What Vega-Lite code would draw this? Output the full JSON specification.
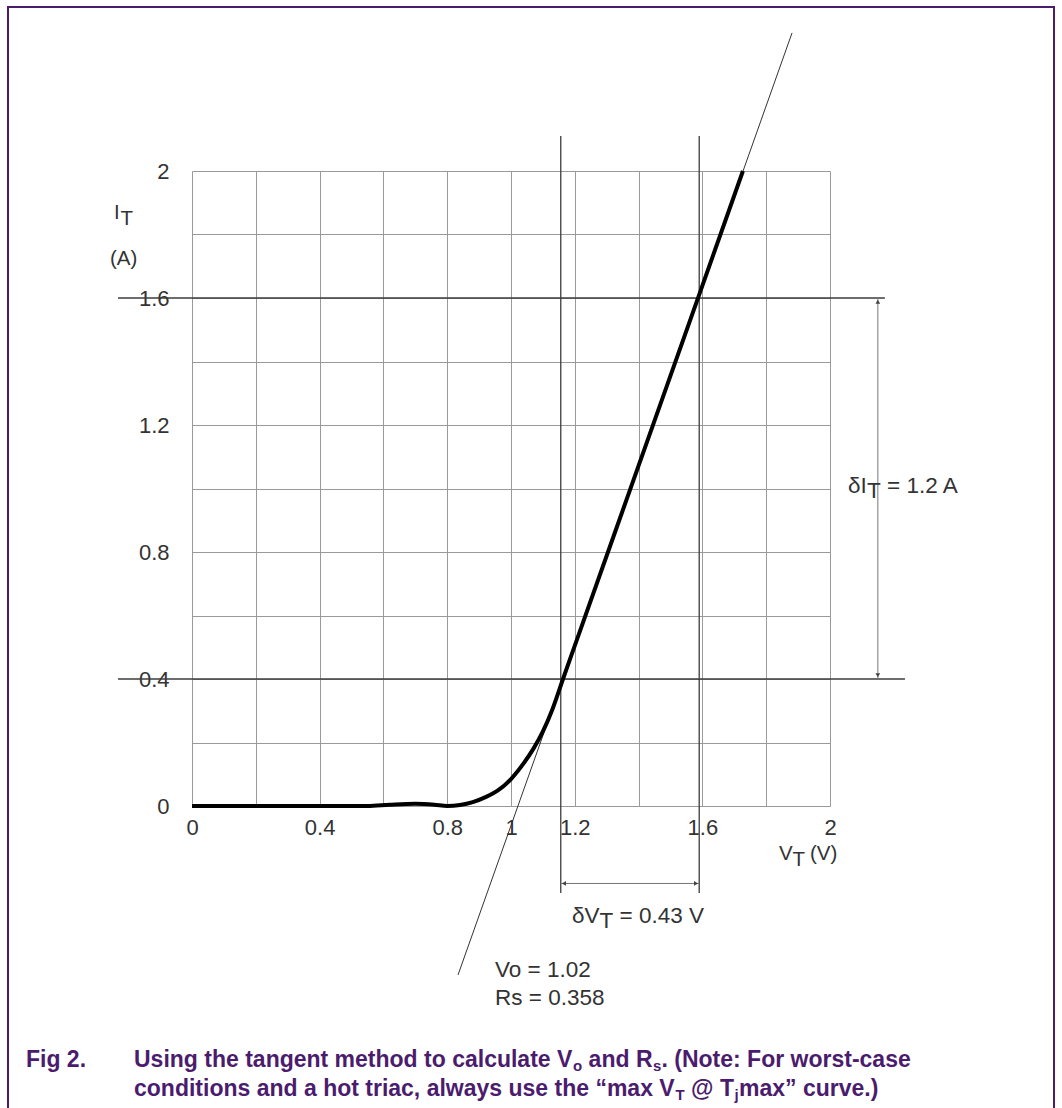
{
  "$schema": "https://vega.github.io/schema/vega-lite/v6.json",
  "width": 638,
  "height": 635,
  "autosize": {"type": "none"},
  "padding": {"left": 192, "top": 171, "right": 232, "bottom": 302},
  "background": "white",
  "config": {
    "view": {"stroke": null},
    "font": "Liberation Sans",
    "axis": {
      "grid": true,
      "gridColor": "#9a9a9a",
      "gridWidth": 1,
      "domain": false,
      "ticks": false,
      "labelFont": "Liberation Sans",
      "labelFontSize": 22,
      "labelColor": "#333333",
      "labelOverlap": false,
      "labelFlush": false,
      "title": null
    }
  },
  "datasets": {
    "curve": [
      {"vt": 0, "it": 0}, {"vt": 0.2, "it": 0}, {"vt": 0.4, "it": 0}, {"vt": 0.55, "it": 0},
      {"vt": 0.62, "it": 0.004}, {"vt": 0.7, "it": 0.007}, {"vt": 0.76, "it": 0.004}, {"vt": 0.8, "it": 0.0},
      {"vt": 0.84, "it": 0.003}, {"vt": 0.88, "it": 0.012}, {"vt": 0.92, "it": 0.028}, {"vt": 0.96, "it": 0.05},
      {"vt": 1.0, "it": 0.085}, {"vt": 1.04, "it": 0.135}, {"vt": 1.07, "it": 0.18}, {"vt": 1.1, "it": 0.235},
      {"vt": 1.13, "it": 0.305}, {"vt": 1.163, "it": 0.4}, {"vt": 1.2, "it": 0.505}, {"vt": 1.4, "it": 1.072},
      {"vt": 1.6, "it": 1.639}, {"vt": 1.727, "it": 2.0}
    ],
    "tangent": [{"vt": 0.834, "it": -0.532}, {"vt": 1.881, "it": 2.435}],
    "hlines": [
      {"it": 1.6, "from": -0.232, "to": 2.172},
      {"it": 0.4, "from": -0.232, "to": 2.235}
    ],
    "vlines": [
      {"vt": 1.156, "from": -0.274, "to": 2.11},
      {"vt": 1.59, "from": -0.274, "to": 2.11}
    ],
    "dimH": [{"it": -0.244, "from": 1.156, "to": 1.59}],
    "dimV": [{"vt": 2.15, "from": 0.4, "to": 1.6}],
    "arrows": [
      {"vt": 1.166, "it": -0.244, "dir": "triangle-left"},
      {"vt": 1.58, "it": -0.244, "dir": "triangle-right"},
      {"vt": 2.15, "it": 1.588, "dir": "triangle-up"},
      {"vt": 2.15, "it": 0.412, "dir": "triangle-down"}
    ],
    "frame": [{"x1": -0.5768, "x2": 2.7022, "y1": 2.5165, "y2": -1.2}],
    "labels": [
      {"vt": -0.2445, "it": 1.8488, "text": "I", "kind": "axis"},
      {"vt": -0.2241, "it": 1.8299, "text": "T", "kind": "axis"},
      {"vt": -0.2571, "it": 1.7039, "text": "(A)", "kind": "axis"},
      {"vt": 1.8401, "it": -0.1701, "text": "V", "kind": "axis"},
      {"vt": 1.8824, "it": -0.189, "text": "T", "kind": "axis"},
      {"vt": 1.9373, "it": -0.1701, "text": "(V)", "kind": "axis"},
      {"vt": 2.0564, "it": 0.9858, "text": "δI", "kind": "main"},
      {"vt": 2.116, "it": 0.9701, "text": "T", "kind": "main"},
      {"vt": 2.1787, "it": 0.9858, "text": "= 1.2 A", "kind": "main"},
      {"vt": 1.1912, "it": -0.3685, "text": "δV", "kind": "main"},
      {"vt": 1.2774, "it": -0.3843, "text": "T", "kind": "main"},
      {"vt": 1.3401, "it": -0.3685, "text": "= 0.43 V", "kind": "main"},
      {"vt": 0.9498, "it": -0.5386, "text": "Vo = 1.02", "kind": "main"},
      {"vt": 0.9498, "it": -0.6268, "text": "Rs = 0.358", "kind": "main"},
      {"vt": -0.5204, "it": -0.822, "text": "Fig 2.", "kind": "cap"},
      {"vt": -0.1818, "it": -0.822, "text": "Using the tangent method to calculate V", "kind": "cap"},
      {"vt": 1.1944, "it": -0.8346, "text": "o", "kind": "capsub"},
      {"vt": 1.2433, "it": -0.822, "text": "and R", "kind": "cap"},
      {"vt": 1.4451, "it": -0.8346, "text": "s", "kind": "capsub"},
      {"vt": 1.4718, "it": -0.822, "text": ". (Note: For worst-case", "kind": "cap"},
      {"vt": -0.1818, "it": -0.9134, "text": "conditions and a hot triac, always use the “max V", "kind": "cap"},
      {"vt": 1.5157, "it": -0.926, "text": "T", "kind": "capsub"},
      {"vt": 1.5646, "it": -0.9134, "text": "@ T", "kind": "cap"},
      {"vt": 1.7006, "it": -0.926, "text": "j", "kind": "capsub"},
      {"vt": 1.7147, "it": -0.9134, "text": "max” curve.)", "kind": "cap"}
    ]
  },
  "layer": [
    {
      "data": {"name": "frame"},
      "mark": {"type": "rect", "fill": null, "stroke": "#4b1c6e", "strokeWidth": 2},
      "encoding": {
        "x": {"field": "x1", "type": "quantitative", "scale": {"domain": [0, 2], "nice": false, "zero": false},
              "axis": {"values": [0, 0.2, 0.4, 0.6, 0.8, 1, 1.2, 1.4, 1.6, 1.8, 2], "format": "~g", "labelPadding": 11,
                       "labelExpr": "(datum.value == 0.2 || datum.value == 0.6 || datum.value == 1.4 || datum.value == 1.8) ? '' : datum.label"}},
        "x2": {"field": "x2"},
        "y": {"field": "y1", "type": "quantitative", "scale": {"domain": [0, 2], "nice": false, "zero": false},
              "axis": {"values": [0, 0.2, 0.4, 0.6, 0.8, 1, 1.2, 1.4, 1.6, 1.8, 2], "format": "~g", "labelPadding": 23,
                       "labelExpr": "(datum.value == 0.2 || datum.value == 0.6 || datum.value == 1 || datum.value == 1.4 || datum.value == 1.8) ? '' : datum.label"}},
        "y2": {"field": "y2"}
      }
    },
    {
      "data": {"name": "hlines"},
      "mark": {"type": "rule", "color": "#3c3c3c", "strokeWidth": 1.3},
      "encoding": {
        "y": {"field": "it", "type": "quantitative"},
        "x": {"field": "from", "type": "quantitative"},
        "x2": {"field": "to"}
      }
    },
    {
      "data": {"name": "vlines"},
      "mark": {"type": "rule", "color": "#3c3c3c", "strokeWidth": 1.3},
      "encoding": {
        "x": {"field": "vt", "type": "quantitative"},
        "y": {"field": "from", "type": "quantitative"},
        "y2": {"field": "to"}
      }
    },
    {
      "data": {"name": "dimH"},
      "mark": {"type": "rule", "color": "#777777", "strokeWidth": 1},
      "encoding": {
        "y": {"field": "it", "type": "quantitative"},
        "x": {"field": "from", "type": "quantitative"},
        "x2": {"field": "to"}
      }
    },
    {
      "data": {"name": "dimV"},
      "mark": {"type": "rule", "color": "#777777", "strokeWidth": 1},
      "encoding": {
        "x": {"field": "vt", "type": "quantitative"},
        "y": {"field": "from", "type": "quantitative"},
        "y2": {"field": "to"}
      }
    },
    {
      "data": {"name": "arrows"},
      "mark": {"type": "point", "filled": true, "color": "#444444", "size": 22, "opacity": 1},
      "encoding": {
        "x": {"field": "vt", "type": "quantitative"},
        "y": {"field": "it", "type": "quantitative"},
        "shape": {"field": "dir", "type": "nominal", "scale": null, "legend": null}
      }
    },
    {
      "data": {"name": "tangent"},
      "mark": {"type": "line", "color": "#333333", "strokeWidth": 1},
      "encoding": {
        "x": {"field": "vt", "type": "quantitative"},
        "y": {"field": "it", "type": "quantitative"}
      }
    },
    {
      "data": {"name": "curve"},
      "mark": {"type": "line", "color": "#000000", "strokeWidth": 4, "interpolate": "monotone"},
      "encoding": {
        "x": {"field": "vt", "type": "quantitative"},
        "y": {"field": "it", "type": "quantitative"}
      }
    },
    {
      "data": {"name": "labels"},
      "transform": [{"filter": "datum.kind == 'main'"}],
      "mark": {"type": "text", "align": "left", "baseline": "alphabetic", "font": "Liberation Sans", "fontSize": 22.5, "color": "#333333"},
      "encoding": {
        "x": {"field": "vt", "type": "quantitative"},
        "y": {"field": "it", "type": "quantitative"},
        "text": {"field": "text"}
      }
    },
    {
      "data": {"name": "labels"},
      "transform": [{"filter": "datum.kind == 'axis'"}],
      "mark": {"type": "text", "align": "left", "baseline": "alphabetic", "font": "Liberation Sans", "fontSize": 20.5, "color": "#333333"},
      "encoding": {
        "x": {"field": "vt", "type": "quantitative"},
        "y": {"field": "it", "type": "quantitative"},
        "text": {"field": "text"}
      }
    },
    {
      "data": {"name": "labels"},
      "transform": [{"filter": "datum.kind == 'cap'"}],
      "mark": {"type": "text", "align": "left", "baseline": "alphabetic", "font": "Liberation Sans", "fontSize": 23, "fontWeight": "bold", "color": "#4b1c6e"},
      "encoding": {
        "x": {"field": "vt", "type": "quantitative"},
        "y": {"field": "it", "type": "quantitative"},
        "text": {"field": "text"}
      }
    },
    {
      "data": {"name": "labels"},
      "transform": [{"filter": "datum.kind == 'capsub'"}],
      "mark": {"type": "text", "align": "left", "baseline": "alphabetic", "font": "Liberation Sans", "fontSize": 15, "fontWeight": "bold", "color": "#4b1c6e"},
      "encoding": {
        "x": {"field": "vt", "type": "quantitative"},
        "y": {"field": "it", "type": "quantitative"},
        "text": {"field": "text"}
      }
    }
  ]
}
